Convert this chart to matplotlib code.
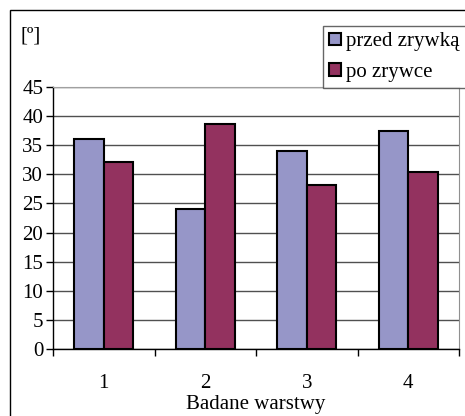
import matplotlib
matplotlib.use("Agg")
import matplotlib.pyplot as plt
from matplotlib.patches import Rectangle
import numpy as np

categories = ["1", "2", "3", "4"]
przed = [36.0, 24.0, 34.0, 37.5]
po = [32.2, 38.6, 28.1, 30.4]
series_names = ["przed zrywką", "po zrywce"]
yticks = [0, 5, 10, 15, 20, 25, 30, 35, 40, 45]

plt.rcParams['font.family'] = ['Liberation Serif', 'DejaVu Serif']
fs = 15

W, H = 465, 416
dpi = 100
fig = plt.figure(figsize=(W / dpi, H / dpi), dpi=dpi)
fig.patch.set_facecolor('white')

# outer chart frame (cut off at right / bottom like in the source)
fig.add_artist(Rectangle((10 / W, -0.05), 1.2, 1 - 10 / H + 0.05,
                         transform=fig.transFigure, fill=False,
                         edgecolor='black', lw=1.0))

ax = fig.add_axes([53 / W, 1 - 349 / H, (459 - 53) / W, (349 - 87) / H])

x = np.arange(1, len(categories) + 1)
w = 0.29
b1 = ax.bar(x - w / 2, przed, w, color='#9696c8', edgecolor='black', lw=1.5,
            zorder=3, label=series_names[0])
b2 = ax.bar(x + w / 2, po, w, color='#93325f', edgecolor='black', lw=1.5,
            zorder=3, label=series_names[1])

ax.set_xlim(0.5, len(categories) + 0.5)
ax.set_ylim(0, 45)
ax.set_yticks(yticks)
ax.set_yticklabels([str(v) for v in yticks], fontsize=fs)
ax.yaxis.grid(True, color='#505050', lw=1.0, zorder=0)
ax.set_axisbelow(True)

# category boundaries as tick marks, labels in the middle
ax.set_xticks(np.arange(0.5, len(categories) + 1, 1.0))
ax.set_xticklabels([])
ax.set_xticks(x, minor=True)
ax.set_xticklabels(categories, minor=True, fontsize=fs)
ax.tick_params(axis='x', which='major', direction='out', length=5, width=1)
ax.tick_params(axis='x', which='minor', length=0, pad=18)
ax.tick_params(axis='y', direction='out', length=5, width=1, pad=2)

for s in ['left', 'bottom']:
    ax.spines[s].set_color('black')
    ax.spines[s].set_linewidth(1.0)
ax.spines['right'].set_color('#909090')
ax.spines['top'].set_color('#a0a0a0')

ax.set_xlabel("Badane warstwy", fontsize=fs, labelpad=1.5)

fig.text(21 / W, 1 - 36 / H, "[º]", fontsize=fs, va='center', ha='left')

leg = fig.legend(handles=[b1, b2], labels=series_names,
                 loc='upper left', bbox_to_anchor=(323 / W, 1 - 26 / H),
                 bbox_transform=fig.transFigure, fontsize=fs,
                 frameon=True, fancybox=False, borderpad=0.3,
                 handlelength=0.55, handleheight=0.55, handletextpad=0.25,
                 labelspacing=0.55, borderaxespad=0)
leg.get_frame().set_edgecolor('#404040')
leg.get_frame().set_linewidth(1.0)

fig.savefig("out.png", dpi=dpi)
